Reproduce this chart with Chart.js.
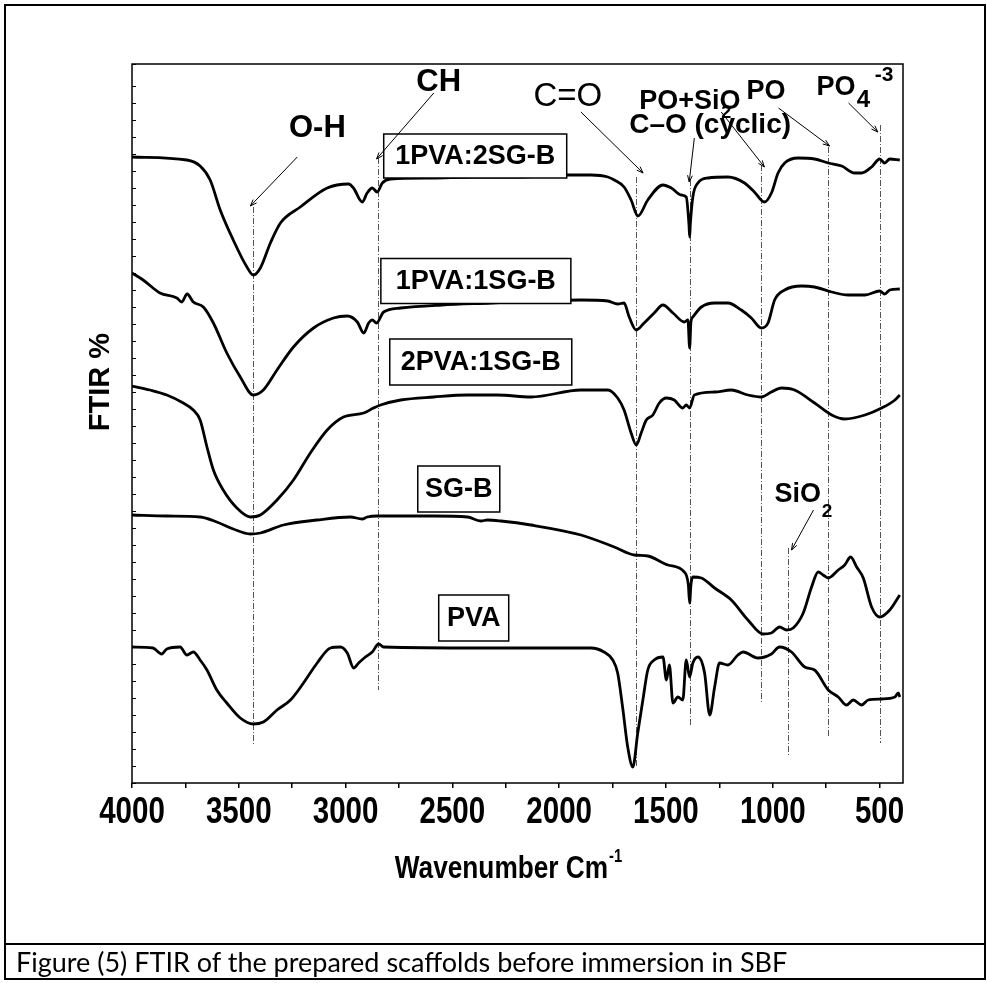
<!DOCTYPE html>
<html>
<head>
<meta charset="utf-8">
<script src="https://cdn.jsdelivr.net/npm/chart.js@4.4.0/dist/chart.umd.min.js"></script>
<style>
  html, body { margin: 0; padding: 0; background: #fff; }
  #wrap { position: relative; width: 990px; height: 983px; }
  #frame { position: absolute; left: 4px; top: 4px; width: 982px; height: 976px; border: 2px solid #000; box-sizing: border-box; }
  #caption { position: absolute; left: 4px; top: 943px; width: 982px; height: 37px; border-top: 2px solid #000; box-sizing: border-box;
             font-family: Lato, "Open Sans", sans-serif; font-size: 27px; padding-left: 12px; line-height: 34px; color: #000; }
  canvas { position: absolute; left: 0; top: 0; }
</style>
</head>
<body>
<div id="wrap">
  <canvas id="ftir" width="990" height="983"></canvas>
  <div id="frame"></div>
  <div id="caption">Figure (5) FTIR of the prepared scaffolds before immersion in SBF</div>
</div>
<script>
// wavenumbers (cm-1) and stacked FTIR curves (arbitrary offset units)
let wn1 = [4000,3743,3681,3634,3587,3526,3462,3432,3399,3352,3305,3212,3086,2986,2963,2922,2899,2875,2852,2828,2789,2600,2400,2200,1960,1851,1772,1742,1696,1663,1631,1585,1514,1475,1428,1405,1392,1389,1386,1374,1350,1303,1210,1132,1086,1039,1006,975,944,881,804,740,677,616,584,537,499,476,452,405];
let pva1sg2 = [626,623,617,603,573,543,516,508,515,540,560,576,595,599,595,581,590,595,591,600,604,605,606,606,608,608,606,603,596,583,567,583,598,595,588,586,558,546,558,586,600,605,606,600,591,581,590,610,620,625,624,620,617,610,610,616,624,620,624,623];

let wn2 = [4000,3948,3869,3790,3767,3742,3713,3666,3619,3556,3493,3432,3385,3321,3244,3150,3057,2992,2945,2915,2892,2875,2855,2822,2742,2550,2320,2212,1898,1772,1726,1696,1672,1639,1602,1555,1514,1467,1414,1397,1389,1383,1374,1334,1272,1210,1147,1100,1053,1022,991,944,865,804,724,646,568,499,476,452,405];
let pva1sg1 = [510,503,490,485,481,489,481,476,460,430,406,388,393,413,436,455,465,467,461,450,460,463,460,471,475,478,480,481,483,482,479,480,466,453,460,470,478,470,461,463,435,461,466,476,480,480,473,465,455,460,483,493,497,496,491,488,488,492,489,493,494];

let wn3 = [4000,3916,3837,3760,3713,3681,3649,3619,3573,3509,3446,3399,3321,3244,3165,3086,3010,2915,2869,2836,2742,2587,2429,2289,2132,1898,1772,1726,1696,1663,1639,1616,1592,1561,1531,1498,1461,1421,1405,1389,1367,1272,1194,1116,1053,1006,959,898,804,724,663,568,490,428,405];
let pva2sg1 = [397,393,388,380,373,363,336,313,293,275,266,268,283,303,330,353,366,370,375,378,383,386,388,388,386,393,393,385,373,350,338,350,363,368,380,385,383,375,378,375,388,391,393,388,386,391,395,393,380,368,364,368,375,383,388];

let wn4 = [4000,3837,3681,3603,3526,3446,3399,3291,3133,2977,2922,2899,2852,2587,2429,2367,2335,2273,2132,1898,1742,1648,1585,1491,1414,1395,1389,1383,1374,1334,1272,1194,1116,1046,1006,968,935,904,857,818,787,764,740,693,663,635,607,576,537,499,452,405];
let sgb = [268,267,266,261,254,249,250,258,263,266,264,266,267,267,266,262,263,262,258,248,236,228,227,218,211,198,180,198,206,205,195,183,163,149,150,156,153,155,170,196,211,208,205,213,218,226,216,205,176,166,173,188];

let wn5 = [4000,3902,3861,3837,3775,3743,3713,3681,3649,3603,3556,3493,3432,3385,3321,3258,3197,3133,3071,3024,2992,2962,2939,2907,2875,2845,2822,2367,1851,1790,1749,1726,1703,1679,1655,1632,1608,1585,1555,1514,1498,1484,1467,1444,1421,1405,1389,1374,1350,1319,1295,1272,1249,1210,1163,1139,1069,1006,968,912,850,804,740,693,654,623,584,553,490,428,412,405];
let pva = [136,135,129,134,136,128,131,123,113,93,80,65,59,61,73,83,100,120,135,136,130,115,120,126,131,139,136,135,135,131,123,110,76,36,16,50,83,113,123,126,103,118,80,86,83,123,106,120,126,110,68,96,120,118,128,131,125,129,136,131,116,113,93,86,78,83,78,83,84,86,90,86];

let xTickLabels = ['4000','3500','3000','2500','2000','1500','1000','500'];

// band assignments: wavenumber of dash-dot guide and its vertical extent
let bands = [
  {w: 3432, top: 576, bottom: 38},
  {w: 2850, top: 625, bottom: 93},
  {w: 1640, top: 606, bottom: 16},
  {w: 1389, top: 603, bottom: 56},
  {w: 1055, top: 618, bottom: 81},
  {w: 740,  top: 636, bottom: 46},
  {w: 496,  top: 658, bottom: 40},
  {w: 930,  top: 235, bottom: 26}
];
let arrows = [
  [3226,626,3446,577], [2587,690,2855,624], [1898,671,1607,610], [1367,645,1391,601],
  [1241,671,1039,616], [973,675,734,637], [645,680,508,651], [809,273,912,233]
];
let B = 'Liberation Sans, Arial, sans-serif';
let notes = [
  {t: 'O-H', w: 3132, v: 655, f: 'bold 31px ' + B, a: 'center'},
  {t: 'CH', w: 2564, v: 701, f: 'bold 31px ' + B, a: 'center'},
  {t: 'C=O', w: 1959, v: 686, f: '33px ' + B, a: 'center'},
  {t: 'PO+SiO', w: 1625, v: 681, f: 'bold 27px ' + B, a: 'left'},
  {t: '2', w: 1241, v: 670, f: 'bold 18px ' + B, a: 'left'},
  {t: 'C\u2013O (cyclic)', w: 1672, v: 658, f: 'bold 28px ' + B, a: 'left'},
  {t: 'PO', w: 1123, v: 691, f: 'bold 27px ' + B, a: 'left'},
  {t: 'PO', w: 795, v: 695, f: 'bold 27px ' + B, a: 'left'},
  {t: '4', w: 607, v: 683, f: 'bold 24px ' + B, a: 'left'},
  {t: '-3', w: 522, v: 708, f: 'bold 21px ' + B, a: 'left'},
  {t: 'SiO', w: 992, v: 288, f: 'bold 27px ' + B, a: 'left'},
  {t: '2', w: 771, v: 271, f: 'bold 19px ' + B, a: 'left'}
];
let boxes = [
  {t: '1PVA:2SG-B', w: 2393, v: 627, bw: 183, bh: 44},
  {t: '1PVA:1SG-B', w: 2390, v: 502, bw: 190, bh: 45},
  {t: '2PVA:1SG-B', w: 2367, v: 421, bw: 182, bh: 46},
  {t: 'SG-B', w: 2470, v: 294, bw: 82, bh: 46},
  {t: 'PVA', w: 2400, v: 165, bw: 70, bh: 46}
];

function pts(w, t) { return w.map((x, i) => ({x: x, y: t[i]})); }
function line(label, w, t) {
  return {label: label, data: pts(w, t), borderColor: '#000', borderWidth: 2.8, pointRadius: 0,
          fill: false, cubicInterpolationMode: 'monotone'};
}
// condensed (Arial Narrow-like) text drawn by squeezing Liberation Sans Bold
function narrow(ctx, text, x, y, size, align) {
  ctx.save();
  ctx.translate(x, y);
  ctx.scale(0.82, 1);
  ctx.font = 'bold ' + size + 'px ' + B;
  ctx.textAlign = align;
  ctx.textBaseline = 'alphabetic';
  ctx.fillText(text, 0, 0);
  ctx.restore();
}

let decor = {
  id: 'decor',
  beforeDatasetsDraw(chart) {
    let ctx = chart.ctx, x = chart.scales.x, y = chart.scales.y;
    ctx.save();
    ctx.strokeStyle = '#555';
    ctx.lineWidth = 1;
    ctx.setLineDash([6, 2, 1, 2]);
    bands.forEach(b => {
      let px = Math.round(x.getPixelForValue(b.w)) + 0.5;
      ctx.beginPath();
      ctx.moveTo(px, y.getPixelForValue(b.top));
      ctx.lineTo(px, y.getPixelForValue(b.bottom));
      ctx.stroke();
    });
    ctx.restore();
  },
  afterDatasetsDraw(chart) {
    let ctx = chart.ctx, x = chart.scales.x, y = chart.scales.y;
    ctx.save();
    // boxed sample names
    boxes.forEach(b => {
      let cx = x.getPixelForValue(b.w), cy = y.getPixelForValue(b.v);
      ctx.fillStyle = '#fff';
      ctx.fillRect(cx - b.bw / 2, cy - b.bh / 2, b.bw, b.bh);
      ctx.strokeStyle = '#000';
      ctx.lineWidth = 1.5;
      ctx.strokeRect(cx - b.bw / 2, cy - b.bh / 2, b.bw, b.bh);
      ctx.fillStyle = '#000';
      ctx.font = 'bold 27px ' + B;
      ctx.textAlign = 'center';
      ctx.textBaseline = 'middle';
      ctx.fillText(b.t, cx, cy + 1);
    });
    // band notes
    notes.forEach(n => {
      ctx.font = n.f;
      ctx.fillStyle = '#000';
      ctx.textAlign = n.a;
      ctx.textBaseline = 'middle';
      ctx.fillText(n.t, x.getPixelForValue(n.w), y.getPixelForValue(n.v));
    });
    // arrows
    ctx.strokeStyle = '#000';
    ctx.lineWidth = 1;
    arrows.forEach(r => {
      let x1 = x.getPixelForValue(r[0]), y1 = y.getPixelForValue(r[1]);
      let x2 = x.getPixelForValue(r[2]), y2 = y.getPixelForValue(r[3]);
      let ang = Math.atan2(y2 - y1, x2 - x1);
      ctx.beginPath();
      ctx.moveTo(x1, y1); ctx.lineTo(x2, y2);
      ctx.moveTo(x2 - 7 * Math.cos(ang - 0.35), y2 - 7 * Math.sin(ang - 0.35));
      ctx.lineTo(x2, y2);
      ctx.lineTo(x2 - 7 * Math.cos(ang + 0.35), y2 - 7 * Math.sin(ang + 0.35));
      ctx.stroke();
    });
    ctx.restore();
  },
  afterDraw(chart) {
    let ctx = chart.ctx, a = chart.chartArea, x = chart.scales.x, y = chart.scales.y;
    ctx.save();
    ctx.strokeStyle = '#000';
    ctx.lineWidth = 1.5;
    ctx.strokeRect(a.left, a.top, a.right - a.left, a.bottom - a.top);
    // inward y ticks
    ctx.lineWidth = 1;
    y.ticks.forEach((t, i) => {
      let py = Math.round(y.getPixelForTick(i)) + 0.5;
      ctx.beginPath(); ctx.moveTo(a.left, py); ctx.lineTo(a.left + 4, py); ctx.stroke();
    });
    // x tick labels
    ctx.fillStyle = '#000';
    xTickLabels.forEach(l => narrow(ctx, l, x.getPixelForValue(Number(l)), a.bottom + 40, 36, 'center'));
    // x axis title with superscript
    ctx.font = 'bold 32px ' + B;
    let wMain = ctx.measureText('Wavenumber Cm').width * 0.82;
    ctx.font = 'bold 18px ' + B;
    let wSup = ctx.measureText('-1').width * 0.82;
    let sx = 508 - (wMain + wSup) / 2;
    narrow(ctx, 'Wavenumber Cm', sx, a.bottom + 95, 32, 'left');
    narrow(ctx, '-1', sx + wMain + 1, a.bottom + 79, 18, 'left');
    // y axis title
    ctx.translate(101, 382);
    ctx.rotate(-Math.PI / 2);
    ctx.font = 'bold 29px ' + B;
    ctx.textAlign = 'center';
    ctx.textBaseline = 'middle';
    ctx.fillText('FTIR %', 0, 0);
    ctx.restore();
  }
};

new Chart(document.getElementById('ftir').getContext('2d'), {
  type: 'line',
  data: {
    datasets: [
      line('1PVA:2SG-B', wn1, pva1sg2),
      line('1PVA:1SG-B', wn2, pva1sg1),
      line('2PVA:1SG-B', wn3, pva2sg1),
      line('SG-B', wn4, sgb),
      line('PVA', wn5, pva)
    ]
  },
  options: {
    responsive: false,
    animation: false,
    layout: {padding: {left: 0, top: 64, right: 87, bottom: 0}},
    plugins: {legend: {display: false}, tooltip: {enabled: false}},
    scales: {
      x: {
        type: 'linear', reverse: true, min: 390, max: 4000,
        afterBuildTicks(s) {
          let t = [];
          for (let v = 4000; v >= 500; v -= 250) t.push({value: v});
          s.ticks = t;
        },
        afterFit(s) { s.height = 200; },
        border: {display: false},
        grid: {drawOnChartArea: false, drawTicks: true, tickLength: 5, color: '#000', lineWidth: 1.5},
        ticks: {display: false}
      },
      y: {
        type: 'linear', min: 0, max: 719,
        afterFit(s) { s.width = 132; },
        border: {display: false},
        grid: {display: false},
        ticks: {display: false, stepSize: 17}
      }
    }
  },
  plugins: [decor]
});
</script>
</body>
</html>
